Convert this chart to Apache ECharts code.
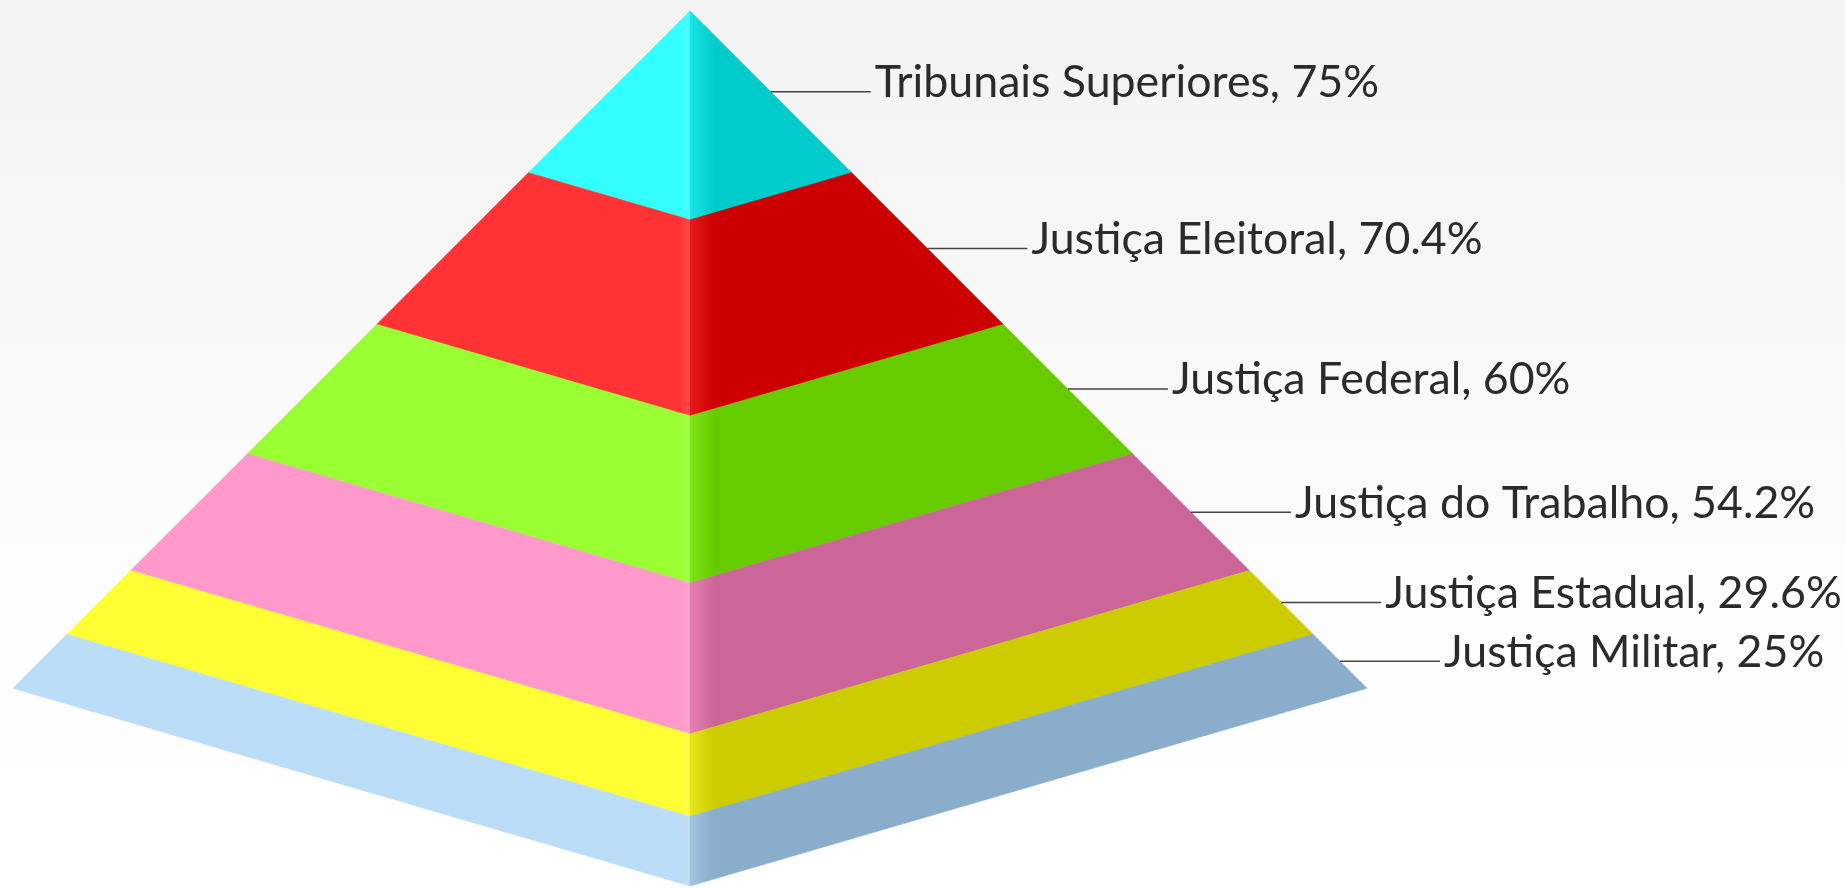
<!DOCTYPE html>
<html>
<head>
<meta charset="utf-8">
<title>Pirâmide</title>
<script src="https://cdn.jsdelivr.net/npm/echarts@6/dist/echarts.min.js"></script>
<style>
  html, body { margin: 0; padding: 0; background: #fff; }
  #main { width: 1845px; height: 888px; }
</style>
</head>
<body>
<div id="main"></div>
<script>
// dados, do topo para a base
const categories = ['Tribunais Superiores', 'Justiça Eleitoral', 'Justiça Federal', 'Justiça do Trabalho', 'Justiça Estadual', 'Justiça Militar'];
const values = [75, 70.4, 60, 54.2, 29.6, 25];
const valueLabels = ['75%', '70.4%', '60%', '54.2%', '29.6%', '25%'];
const leftColors = ['#33FFFF', '#FF3333', '#99FF33', '#FF99CC', '#FFFF33', '#BBDDF8'];
const rightColors = ['#00CCCC', '#CC0000', '#66CC00', '#CC6699', '#CCCC00', '#8AADCC'];

const total = values.reduce((a, b) => a + b, 0);
// os cantos da base ficam acima da ponta central (perspectiva)
const CORNER_DROP = 0.774;
const LEADER = 104;

let acc = 0;
const rows = values.map((v, i) => {
  const row = [acc, acc + v, i];
  acc += v;
  return row;
});

function renderItem(params, api) {
  const start = api.value(0);
  const end = api.value(1);
  const i = api.value(2);
  // ponto no eixo central e nos cantos, sempre pelos eixos
  const mid = v => api.coord([0, v]);
  const corner = (v, side) => api.coord([side * v / total, v * CORNER_DROP]);
  const cx = mid(0)[0];

  const leftFill = new echarts.graphic.LinearGradient(cx - 34, 0, cx, 0, [
    { offset: 0, color: leftColors[i] },
    { offset: 0.7, color: leftColors[i] },
    { offset: 1, color: echarts.color.lift(leftColors[i], 0.14) }
  ], true);
  const rightFill = new echarts.graphic.LinearGradient(cx, 0, cx + 24, 0, [
    { offset: 0, color: echarts.color.lerp(0.5, [leftColors[i], rightColors[i]]) },
    { offset: 1, color: rightColors[i] }
  ], true);

  const leftPts = [corner(start, -1), mid(start), mid(end), corner(end, -1)];
  const rightPts = [mid(start), corner(start, 1), corner(end, 1), mid(end)];

  // saída da linha: meio da faixa, na aresta direita
  const edge = corner((start + end) / 2, 1);
  const endX = edge[0] + LEADER;

  return {
    type: 'group',
    children: [
      { type: 'polygon', shape: { points: leftPts }, style: { fill: leftFill, stroke: leftFill, lineWidth: 0.6 } },
      { type: 'polygon', shape: { points: rightPts }, style: { fill: rightFill, stroke: rightFill, lineWidth: 0.6 } },
      {
        type: 'line',
        shape: { x1: edge[0], y1: edge[1], x2: endX - 4, y2: edge[1] },
        style: { stroke: '#444', lineWidth: 1.5 }
      },
      {
        type: 'text',
        x: endX,
        y: edge[1] - 9,
        style: {
          text: categories[i] + ', ' + valueLabels[i],
          font: '44.7px Lato',
          fill: '#2b2b2b',
          align: 'left',
          verticalAlign: 'middle'
        }
      }
    ]
  };
}

const chart = echarts.init(document.getElementById('main'));
chart.setOption({
  animation: false,
  backgroundColor: new echarts.graphic.LinearGradient(0, 0, 0, 1, [
    { offset: 0, color: '#F3F3F3' },
    { offset: 0.3, color: '#F7F7F7' },
    { offset: 0.75, color: '#FEFEFE' },
    { offset: 1, color: '#FFFFFF' }
  ]),
  grid: { left: 13, right: 478, top: 11, bottom: 2 },
  xAxis: { type: 'value', min: -1, max: 1, show: false },
  yAxis: { type: 'value', min: 0, max: total, inverse: true, show: false },
  series: [{
    type: 'custom',
    coordinateSystem: 'cartesian2d',
    clip: false,
    silent: true,
    encode: { y: [0, 1] },
    data: rows,
    renderItem: renderItem
  }]
});
</script>
</body>
</html>
